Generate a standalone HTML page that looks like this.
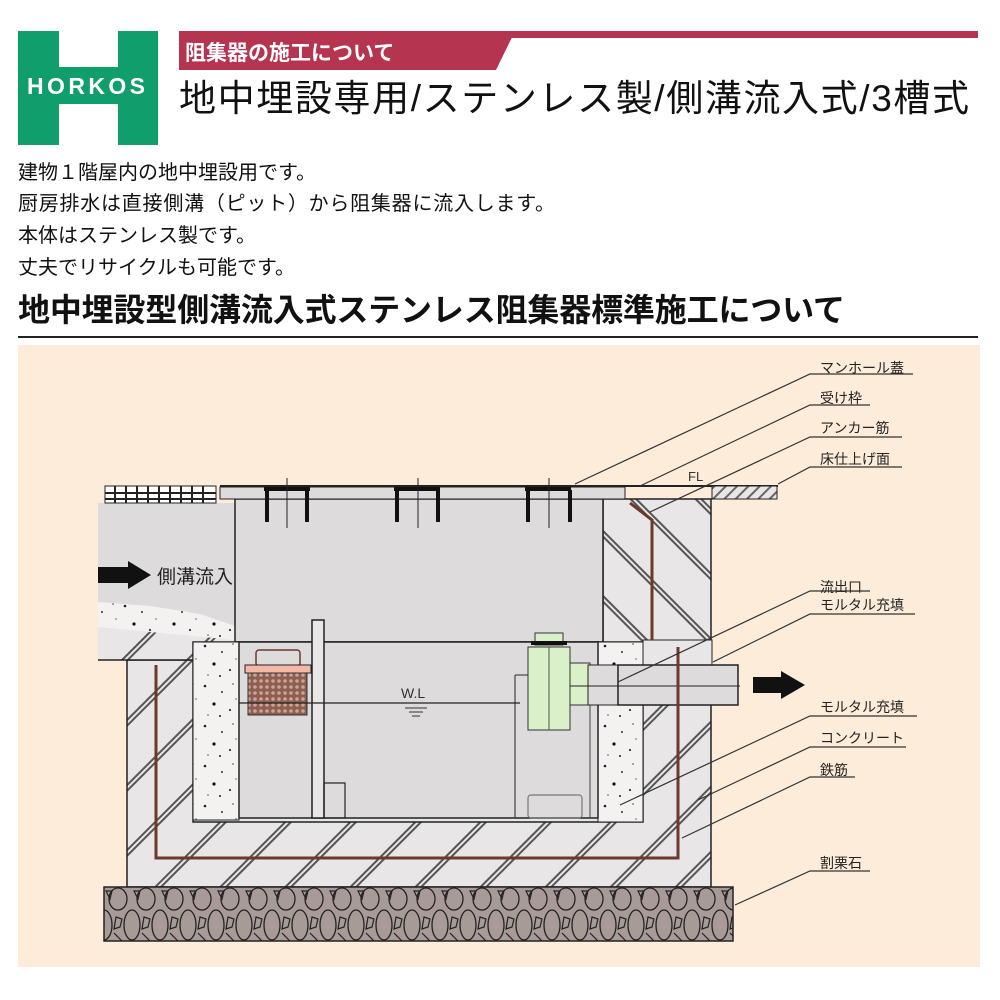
<!DOCTYPE html>
<html><head><meta charset="utf-8"><style>
body{margin:0;width:1000px;height:1000px;background:#fff;position:relative;overflow:hidden;font-family:"Liberation Sans","Noto Sans CJK JP",sans-serif;}
.a{position:absolute;white-space:nowrap;}
</style></head><body>
<svg class="a" style="left:0;top:0" width="1000" height="1000" viewBox="0 0 1000 1000">
<defs>
<pattern id="hs" width="46" height="46" patternUnits="userSpaceOnUse" patternTransform="rotate(45)">
<rect width="46" height="46" fill="#e8e6e6"/><rect x="0" y="0" width="2" height="46" fill="#555"/><rect x="4" y="0" width="2" height="46" fill="#555"/></pattern>
<pattern id="hb" width="46" height="46" patternUnits="userSpaceOnUse" patternTransform="rotate(-45)">
<rect width="46" height="46" fill="#e8e6e6"/><rect x="0" y="0" width="2" height="46" fill="#555"/><rect x="4" y="0" width="2" height="46" fill="#555"/></pattern>
<pattern id="sp" width="40" height="40" patternUnits="userSpaceOnUse">
<rect width="40" height="40" fill="#f3f2f1"/>
<circle cx="5" cy="6" r="1.3" fill="#222"/><circle cx="22" cy="12" r="1" fill="#333"/><circle cx="33" cy="4" r="0.8" fill="#444"/><circle cx="14" cy="24" r="1.6" fill="#111"/><circle cx="30" cy="30" r="1.1" fill="#333"/><circle cx="8" cy="35" r="0.8" fill="#555"/><circle cx="36" cy="19" r="0.7" fill="#555"/><circle cx="20" cy="36" r="1" fill="#222"/></pattern>
<pattern id="gr" width="28" height="54" patternUnits="userSpaceOnUse" x="104" y="887">
<rect width="28" height="54" fill="#a89b97"/>
<ellipse cx="14" cy="12" rx="9" ry="11" fill="none" stroke="#222" stroke-width="1.3"/>
<path d="M2 4 L8 4 L6 12 Z" fill="none" stroke="#222" stroke-width="1.2"/>
<ellipse cx="0" cy="38" rx="8" ry="15" fill="none" stroke="#222" stroke-width="1.3"/>
<ellipse cx="28" cy="38" rx="8" ry="15" fill="none" stroke="#222" stroke-width="1.3"/>
<path d="M12 30 L18 32 L16 40 L10 42 Z" fill="none" stroke="#222" stroke-width="1.2"/>
<path d="M10 46 L18 54" stroke="#222" stroke-width="1.2"/></pattern>
<pattern id="fl" width="8" height="8" patternUnits="userSpaceOnUse" patternTransform="rotate(45)">
<rect width="8" height="8" fill="#e8e6e6"/><rect width="2" height="8" fill="#666"/></pattern>
<pattern id="mesh" width="6" height="6" patternUnits="userSpaceOnUse">
<rect width="6" height="6" fill="#8e5e50"/><circle cx="3" cy="3" r="1.8" fill="#c9a49a"/></pattern>
</defs>
<rect x="18" y="31" width="140" height="114" fill="#0f9e6c"/>
<rect x="59" y="31" width="59" height="36" fill="#fff"/>
<rect x="59" y="104" width="59" height="41" fill="#fff"/>
<text x="86" y="94" text-anchor="middle" font-size="23" font-weight="bold" fill="#fff" font-family="Liberation Sans" textLength="118">HORKOS</text>
<rect x="179" y="31" width="799" height="7" fill="#b5344f"/>
<polygon points="179,31 515,31 496,70 179,70" fill="#b5344f"/>
<text x="185" y="60" font-size="21" font-weight="bold" fill="#fff" font-family="Liberation Sans,Noto Sans CJK JP,sans-serif">阻集器の施工について</text>
<text x="179" y="111" font-size="37" fill="#111" font-family="Liberation Sans,Noto Sans CJK JP,sans-serif" textLength="790">地中埋設専用/ステンレス製/側溝流入式/3槽式</text>
<text x="18" y="179" font-size="20" fill="#111" font-family="Liberation Sans,Noto Sans CJK JP,sans-serif">建物１階屋内の地中埋設用です。</text>
<text x="18" y="210" font-size="20" fill="#111" font-family="Liberation Sans,Noto Sans CJK JP,sans-serif" textLength="537">厨房排水は直接側溝（ピット）から阻集器に流入します。</text>
<text x="18" y="242" font-size="20" fill="#111" font-family="Liberation Sans,Noto Sans CJK JP,sans-serif">本体はステンレス製です。</text>
<text x="18" y="274" font-size="20" fill="#111" font-family="Liberation Sans,Noto Sans CJK JP,sans-serif">丈夫でリサイクルも可能です。</text>
<text x="18" y="321" font-size="32" font-weight="bold" fill="#111" font-family="Liberation Sans,Noto Sans CJK JP,sans-serif" textLength="827">地中埋設型側溝流入式ステンレス阻集器標準施工について</text>
<rect x="18" y="336" width="960" height="2" fill="#222"/>
<rect x="18" y="345" width="962" height="622" fill="#fcecd9"/>
<rect x="127" y="660" width="584" height="227" fill="url(#hs)" stroke="#222" stroke-width="1.5"/>
<rect x="603" y="499" width="108" height="170" fill="url(#hb)" stroke="#222" stroke-width="1.5"/>
<rect x="98" y="503" width="137" height="157" fill="#dedbdc"/>
<polygon points="98,627 235,627 235,660 98,660" fill="url(#hs)"/>
<polygon points="98,602 150,606 200,614 235,626 235,640 98,627" fill="url(#sp)"/>
<line x1="98" y1="660" x2="193" y2="660" stroke="#222" stroke-width="1.5"/>
<polygon points="98,567 128,567 128,561 151,575 128,589 128,583 98,583" fill="#111"/>
<text x="157" y="583" font-size="19" fill="#222" font-family="Liberation Sans,Noto Sans CJK JP,sans-serif">側溝流入</text>
<rect x="235" y="499" width="368" height="143" fill="#dedbdc" stroke="#222" stroke-width="1.5"/>
<rect x="193" y="642" width="450" height="180" fill="#e8e6e6" stroke="#222" stroke-width="1.5"/>
<rect x="193" y="642" width="46" height="178" fill="url(#sp)" stroke="#222" stroke-width="1"/>
<rect x="598" y="642" width="45" height="180" fill="url(#sp)" stroke="#222" stroke-width="1"/>
<rect x="239" y="642" width="359" height="176" fill="#dedbdc" stroke="#222" stroke-width="1.5"/>
<line x1="515" y1="675" x2="515" y2="818" stroke="#444" stroke-width="1.2"/>
<line x1="515" y1="675" x2="528" y2="675" stroke="#444" stroke-width="1.2"/>
<line x1="590" y1="700" x2="590" y2="818" stroke="#444" stroke-width="1"/>
<rect x="528" y="795" width="54" height="23" rx="3" fill="none" stroke="#777" stroke-width="1.2"/>
<rect x="256" y="650" width="44" height="16" rx="3" fill="none" stroke="#6b3a2a" stroke-width="1.5"/>
<rect x="245" y="665" width="66" height="8" fill="#f4b8a8" stroke="#222" stroke-width="1"/>
<rect x="248" y="673" width="59" height="42" fill="url(#mesh)" stroke="#333" stroke-width="1"/>
<rect x="312" y="620" width="12" height="198" fill="#e8e6e6" stroke="#222" stroke-width="1.5"/>
<rect x="324" y="783" width="21" height="35" fill="none" stroke="#222" stroke-width="1.2"/>
<line x1="239" y1="703" x2="520" y2="703" stroke="#222" stroke-width="1.2"/>
<text x="401" y="698" font-size="14" fill="#333" font-family="Liberation Sans">W.L</text>
<line x1="405" y1="708" x2="427" y2="708" stroke="#333"/><line x1="409" y1="712" x2="423" y2="712" stroke="#333"/><line x1="412" y1="716" x2="420" y2="716" stroke="#333"/>
<rect x="535" y="633" width="28" height="12" fill="#d9f0c8" stroke="#333"/>
<rect x="531" y="641" width="36" height="4" fill="#111"/>
<rect x="528" y="647" width="42" height="83" fill="#d9f0c8" stroke="#333"/>
<rect x="570" y="663" width="20" height="42" fill="#d9f0c8" stroke="#333"/>
<line x1="549" y1="647" x2="549" y2="730" stroke="#555"/>
<rect x="643" y="640" width="69" height="25" fill="#e8e6e6" stroke="#222"/>
<rect x="588" y="665" width="30" height="40" fill="#dedbdc" stroke="#222"/>
<rect x="618" y="665" width="120" height="40" fill="#dedbdc" stroke="#222" stroke-width="1.5"/>
<line x1="570" y1="686" x2="740" y2="686" stroke="#222"/>
<polygon points="753,677 781,677 781,671 805,685 781,699 781,693 753,693" fill="#111"/>
<polyline points="156,665 156,858 678,858 678,647" fill="none" stroke="#6b3a2a" stroke-width="3"/>
<polyline points="630,503 652,520 652,640" fill="none" stroke="#6b3a2a" stroke-width="3"/>
<rect x="104" y="887" width="629" height="54" fill="url(#gr)" stroke="#222" stroke-width="1.5"/>
<rect x="105" y="486" width="111" height="17" fill="#fff" stroke="#222"/>
<g fill="#222"><rect x="105" y="492" width="111" height="2"/><rect x="105" y="498" width="111" height="2"/></g>
<g stroke="#222" stroke-width="2"><line x1="115" y1="486" x2="115" y2="503"/><line x1="126" y1="486" x2="126" y2="503"/><line x1="137" y1="486" x2="137" y2="503"/><line x1="148" y1="486" x2="148" y2="503"/><line x1="159" y1="486" x2="159" y2="503"/><line x1="170" y1="486" x2="170" y2="503"/><line x1="181" y1="486" x2="181" y2="503"/><line x1="192" y1="486" x2="192" y2="503"/><line x1="203" y1="486" x2="203" y2="503"/></g>
<rect x="220" y="487" width="405" height="12" fill="#dedbdc" stroke="#222"/>
<line x1="220" y1="486" x2="778" y2="486" stroke="#222" stroke-width="2"/>
<rect x="712" y="486" width="65" height="13" fill="url(#fl)" stroke="#222"/>
<g fill="#111">
<rect x="264" y="487" width="46" height="4"/><rect x="394" y="487" width="46" height="4"/><rect x="525" y="487" width="46" height="4"/>
<rect x="265" y="490" width="4" height="32"/><rect x="305" y="490" width="4" height="32"/><rect x="395" y="490" width="4" height="32"/><rect x="436" y="490" width="4" height="32"/><rect x="526" y="490" width="4" height="32"/><rect x="568" y="490" width="4" height="32"/>
</g>
<g stroke="#222"><line x1="287" y1="478" x2="287" y2="528"/><line x1="418" y1="478" x2="418" y2="528"/><line x1="549" y1="478" x2="549" y2="528"/></g>
<text x="688" y="481" font-size="13" fill="#333" font-family="Liberation Sans">FL</text>
<g font-size="14" fill="#222" font-family="Liberation Sans,Noto Sans CJK JP,sans-serif">
<text x="820" y="373">マンホール蓋</text><text x="820" y="403">受け枠</text><text x="820" y="433">アンカー筋</text><text x="820" y="464">床仕上げ面</text>
<text x="820" y="592">流出口</text><text x="820" y="610">モルタル充填</text>
<text x="820" y="712">モルタル充填</text><text x="820" y="743">コンクリート</text><text x="820" y="775">鉄筋</text><text x="820" y="868">割栗石</text>
</g>
<g stroke="#333" stroke-width="1.2" fill="none">
<polyline points="913,374 810,374 575,484"/><polyline points="870,405 810,405 640,486"/><polyline points="902,437 810,437 650,512"/><polyline points="902,467 810,467 778,484"/>
<polyline points="870,591 810,591 618,682"/><polyline points="915,614 810,614 713,662"/>
<polyline points="917,716 810,716 620,805"/><polyline points="906,747 810,747 698,800"/><polyline points="855,777 810,777 682,838"/><polyline points="870,871 810,871 735,905"/>
</g>
</svg>
</body></html>
